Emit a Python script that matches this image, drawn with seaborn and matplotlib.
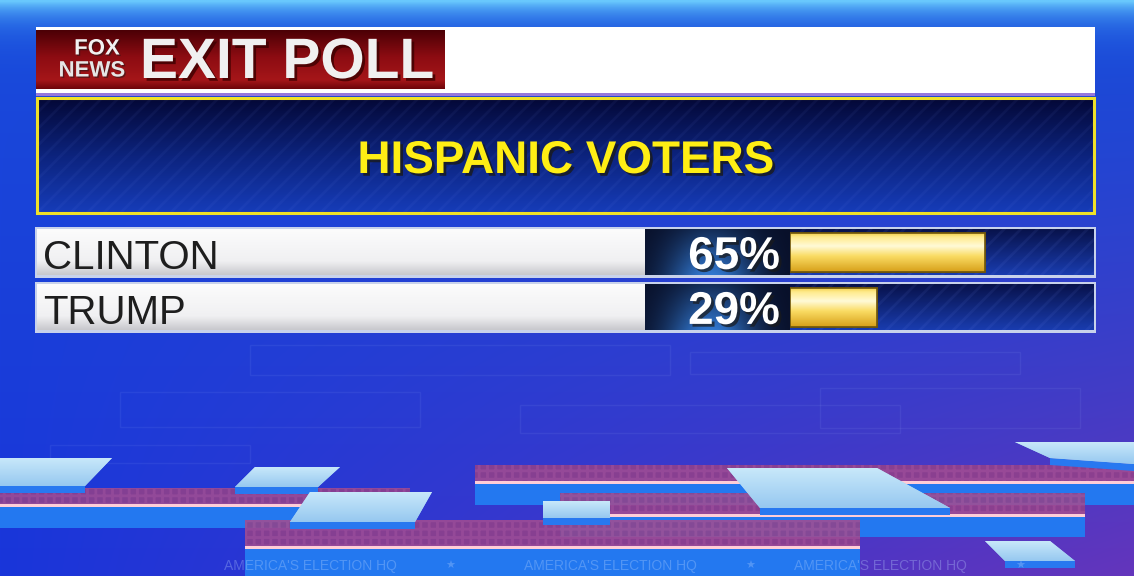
"""
Exit poll broadcast graphic - Hispanic voters.

Recreates the FOX NEWS "EXIT POLL" board with a seaborn horizontal bar chart.
"""

import numpy as np
import matplotlib
matplotlib.use("Agg")
from matplotlib import pyplot as plt
from matplotlib.patches import Rectangle, Polygon
import matplotlib.patheffects as pe
import seaborn as sns

#############################################################
# Data read off the graphic.

candidates = ["CLINTON", "TRUMP"]
shares = [65, 29]
share_labels = ["65%", "29%"]
header_title = "EXIT POLL"
subgroup_title = "HISPANIC VOTERS"
banner_text = "AMERICA'S ELECTION HQ"

#############################################################

W, H = 1134, 576

sns.set_theme(style="white")
plt.rcParams["font.family"] = ["Liberation Sans", "DejaVu Sans"]
plt.rcParams["hatch.linewidth"] = 2.0


def rgb(r, g, b):
    return (r / 255.0, g / 255.0, b / 255.0)


def vgrad(ax, x0, x1, y0, y1, stops, z, clip=None):
    """Vertical colour gradient from y0 (top) to y1 (bottom)."""
    t = np.linspace(0, 1, 128)
    pos = [s[0] for s in stops]
    img = np.zeros((128, 1, 3))
    for c in range(3):
        img[:, 0, c] = np.interp(t, pos, [s[1][c] for s in stops])
    im = ax.imshow(img, extent=(x0, x1, y1, y0), aspect="auto", zorder=z,
                   interpolation="bilinear")
    if clip is not None:
        im.set_clip_path(clip)
    return im


fig = plt.figure(figsize=(W / 100, H / 100), dpi=100)

# Full-figure axes in pixel coordinates for the studio backdrop.
bg = fig.add_axes([0, 0, 1, 1])
bg.axis("off")

# Backdrop: blue with a cyan glow at the top and purple toward the bottom right.
yy, xx = np.mgrid[0:1:200j, 0:1:400j]
red = 25 + 75 * xx * yy ** 1.5 + 80 * np.exp(-yy / 0.025)
green = 75 - 22 * yy + 125 * np.exp(-yy / 0.03)
blue = 218 - 30 * yy * xx + 35 * np.exp(-yy / 0.035)
back = np.clip(np.dstack([red, green, blue]) / 255.0, 0, 1)
bg.imshow(back, extent=(0, W, H, 0), aspect="auto", zorder=0, interpolation="bilinear")

# Faint outlines floating in the backdrop.
for (x, y, w, h) in [(250, 345, 420, 30), (690, 352, 330, 22), (120, 392, 300, 35),
                     (520, 405, 380, 28), (820, 388, 260, 40), (50, 445, 200, 18)]:
    bg.add_patch(Rectangle((x, y), w, h, fill=False, ec=(0.7, 0.8, 1.0, 0.08), lw=1, zorder=1))

# Studio floor: red grid strips with bright edges and blue sides.
strips = [(0, 410, 488, 505, 528), (475, 1134, 465, 482, 505),
          (560, 1085, 493, 515, 537), (245, 860, 520, 547, 576)]
for (x0, x1, y0, yl, y1) in strips:
    bg.add_patch(Rectangle((x0, yl), x1 - x0, y1 - yl, fc=rgb(35, 120, 240), ec="none", zorder=2))
    bg.add_patch(Rectangle((x0, y0), x1 - x0, yl - y0, fc=rgb(150, 65, 135), ec="none",
                           alpha=0.85, zorder=2))
    bg.add_patch(Rectangle((x0, y0), x1 - x0, yl - y0, fill=False, hatch="++",
                           ec=(1, 0.6, 0.8, 0.12), lw=0, zorder=2))
    bg.add_patch(Rectangle((x0, yl - 1.5), x1 - x0, 3, fc=rgb(255, 205, 215), ec="none", zorder=2))

# Floating light-blue slabs.
slabs = [[(0, 458), (112, 458), (85, 486), (0, 486)],
         [(255, 467), (340, 467), (318, 487), (235, 487)],
         [(310, 492), (432, 492), (415, 522), (290, 522)],
         [(543, 501), (610, 501), (610, 518), (543, 518)],
         [(727, 468), (877, 468), (950, 508), (760, 508)],
         [(1015, 442), (1134, 442), (1134, 464), (1050, 458)],
         [(985, 541), (1050, 541), (1075, 561), (1005, 561)]]
for pts in slabs:
    side = [(p[0], p[1] + 7) for p in pts[2:]][::-1]
    bg.add_patch(Polygon(pts[2:] + side, closed=True, fc=rgb(40, 120, 240), ec="none", zorder=3))
    poly = Polygon(pts, closed=True, fc=rgb(170, 215, 245), ec="none", zorder=3)
    bg.add_patch(poly)
    ys = [p[1] for p in pts]
    xs = [p[0] for p in pts]
    vgrad(bg, min(xs), max(xs), min(ys), max(ys),
          [(0, rgb(200, 232, 250)), (1, rgb(150, 200, 240))], 3, clip=poly)

# Repeated banner text on the floor.
for x in [310, 610, 880]:
    bg.text(x, 566, banner_text, ha="center", va="center", fontsize=10,
            color=(0.75, 0.85, 1.0), alpha=0.3, zorder=4)
    bg.text(x + 140, 566, "\u2605", ha="center", va="center", fontsize=8,
            color=(0.75, 0.85, 1.0), alpha=0.3, zorder=4)

################################################################################################################
# Header bar.

bg.add_patch(Rectangle((36, 27), 1059, 66, fc="white", ec="none", zorder=5))
vgrad(bg, 36, 445, 30, 89, [(0, rgb(75, 0, 5)), (0.45, rgb(140, 12, 18)),
                            (0.85, rgb(165, 22, 25)), (1, rgb(110, 5, 10))], 6)
bg.add_patch(Rectangle((36, 93), 1059, 3, fc=rgb(150, 120, 220), ec="none", zorder=5))

logo_fx = [pe.withSimplePatchShadow(offset=(1, -1), shadow_rgbFace="k", alpha=0.5)]
bg.text(97, 49, "FOX", ha="center", va="center", fontsize=16, fontweight="bold",
        color="#f2f2f2", path_effects=logo_fx, zorder=7)
bg.text(92, 71, "NEWS", ha="center", va="center", fontsize=16, fontweight="bold",
        color="#e6e6e6", path_effects=logo_fx, zorder=7)
bg.text(140, 63, header_title, ha="left", va="center", fontsize=41, fontweight="bold",
        color="#f0f0f0", zorder=7,
        path_effects=[pe.withSimplePatchShadow(offset=(2, -2), shadow_rgbFace=rgb(60, 0, 0), alpha=0.8)])

################################################################################################################
# Subgroup title box.

vgrad(bg, 37, 1094, 98, 213, [(0, rgb(4, 8, 55)), (0.5, rgb(12, 35, 125)),
                              (1, rgb(22, 60, 185))], 5)
bg.add_patch(Rectangle((37, 98), 1057, 115, fill=False, hatch="//",
                       ec=(0.5, 0.6, 1.0, 0.06), lw=0, zorder=6))
bg.add_patch(Rectangle((37, 98), 1057, 115, fill=False, ec=rgb(240, 225, 40), lw=2.2, zorder=7))
bg.text(566, 161, subgroup_title, ha="center", va="center", fontsize=33, fontweight="bold",
        color=rgb(255, 238, 20), zorder=8,
        path_effects=[pe.withSimplePatchShadow(offset=(2, -2), shadow_rgbFace="k", alpha=0.8)])

################################################################################################################
# Result rows (panels behind the bars).

row_pitch = 55
for i in range(len(candidates)):
    top = 228 + i * row_pitch
    bot = top + 48
    bg.add_patch(Rectangle((35, top - 1.5), 1061, bot - top + 3, fc=rgb(200, 210, 235), ec="none", zorder=5))
    vgrad(bg, 37, 645, top + 1, bot - 1, [(0, rgb(252, 252, 252)), (0.7, rgb(240, 240, 242)),
                                          (1, rgb(200, 200, 205))], 6)
    # Dark panel behind the percentage.
    img = np.zeros((32, 64, 3))
    hx = np.linspace(0, 1, 64)
    vy = np.linspace(0, 1, 32)[:, None]
    glow = np.exp(-((hx - 0.45) / 0.3) ** 2)[None, :]
    img[..., 0] = 8 + 30 * glow * (0.4 + vy)
    img[..., 1] = 15 + 75 * glow * (0.4 + vy)
    img[..., 2] = 40 + 120 * glow * (0.4 + vy)
    bg.imshow(np.clip(img / 255.0, 0, 1), extent=(645, 790, bot - 1, top + 1), aspect="auto",
              zorder=6, interpolation="bilinear")
    # Striped blue track behind the bar.
    vgrad(bg, 790, 1094, top + 1, bot - 1, [(0, rgb(8, 18, 75)), (1, rgb(25, 60, 175))], 6)
    bg.add_patch(Rectangle((790, top + 1), 304, bot - top - 2, fill=False, hatch="//",
                           ec=(0.5, 0.6, 1.0, 0.08), lw=0, zorder=6))

bg.set_xlim(0, W)
bg.set_ylim(H, 0)

################################################################################################################
# Bars, drawn with seaborn in their own axes (0-100 % over 300 px).

bx = fig.add_axes([790 / W, 1 - 335 / H, 300 / W, 110 / H])
bx.patch.set_alpha(0)
sns.barplot(x=shares, y=candidates, orient="h", ax=bx, width=0.71,
            color=rgb(245, 205, 70), edgecolor=rgb(120, 90, 10), linewidth=1.2, zorder=3)
bx.set_xlim(0, 100)
bx.set_ylim(1.5, -0.5)

gold = [(0, rgb(240, 200, 60)), (0.12, rgb(255, 235, 140)), (0.35, rgb(255, 250, 215)),
        (0.6, rgb(250, 220, 100)), (1, rgb(215, 160, 25))]
for bar in bx.patches:
    x0, y0 = bar.get_x(), bar.get_y()
    vgrad(bx, x0, x0 + bar.get_width(), y0, y0 + bar.get_height(), gold, 4, clip=bar)
    bx.add_patch(Rectangle((x0, y0), bar.get_width(), bar.get_height(), fill=False,
                           ec=rgb(110, 85, 10), lw=1.2, zorder=5))

for i, (name, label) in enumerate(zip(candidates, share_labels)):
    bx.text(-249, i + 0.1, name, ha="left", va="center", fontsize=29, color="#1e1e1e",
            clip_on=False, zorder=8)
    bx.text(-3.3, i + 0.08, label, ha="right", va="center", fontsize=33, fontweight="bold",
            color="white", clip_on=False, zorder=8,
            path_effects=[pe.withSimplePatchShadow(offset=(2, -2), shadow_rgbFace="k", alpha=0.7)])

bx.set_xlim(0, 100)
bx.set_ylim(1.5, -0.5)
bx.axis("off")

plt.savefig("out.png", dpi=100)
